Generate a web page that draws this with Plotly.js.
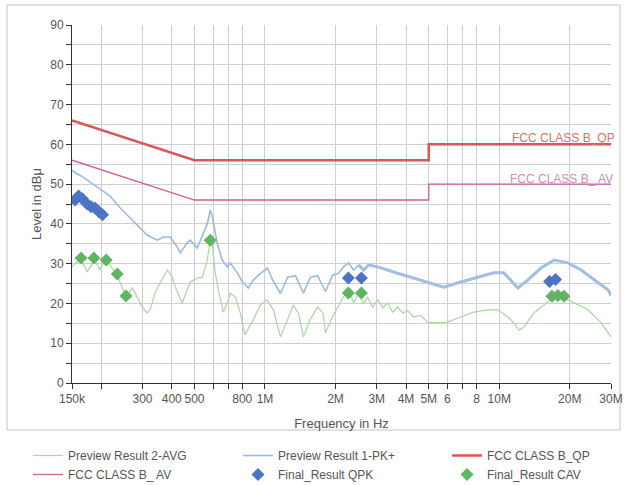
<!DOCTYPE html>
<html>
<head>
<meta charset="utf-8">
<script src="https://cdn.plot.ly/plotly-3.0.1.min.js"></script>
<style>html,body{margin:0;padding:0;background:#fff;}#chart{width:627px;height:485px;}</style>
</head>
<body>
<div id="chart"></div>
<script>
// Frequencies in MHz, levels in dBµV
var pkFreq = [0.150,0.155,0.165,0.179,0.198,0.218,0.241,0.266,0.293,0.314,0.347,0.368,0.394,0.422,0.435,0.466,0.480,0.514,0.530,0.545,0.567,0.584,0.596,0.626,0.657,0.690,0.711,0.762,0.800,0.849,0.892,0.937,1.024,1.076,1.164,1.250,1.349,1.459,1.563,1.675,1.813,1.942,2.060,2.164,2.274,2.388,2.509,2.636,2.769,3.027,3.540,4.188,4.951,5.794,6.850,8.097,9.482,10.46,11.21,12.01,13.26,15.07,17.13,19.65,22.34,25.41,29.17,30.0];
var pkLevel = [53.5,52.8,52.0,50.5,48.7,47.0,44.0,41.5,39.0,37.2,35.9,36.7,36.7,34.2,32.7,35.3,35.9,33.9,35.9,37.5,40.0,43.5,41.7,35.0,30.9,29.2,30.2,27.7,25.4,23.9,25.9,27.1,28.9,26.0,22.5,26.6,27.0,22.6,26.6,27.0,23.0,27.1,27.6,29.2,30.2,28.4,29.7,28.4,29.7,29.2,27.9,26.6,25.4,24.1,25.4,26.6,27.7,27.7,25.9,23.9,25.9,28.9,30.9,30.2,28.4,25.9,23.4,22.0];

var avgFreq = [0.150,0.158,0.164,0.174,0.181,0.187,0.197,0.204,0.210,0.222,0.234,0.245,0.257,0.271,0.279,0.299,0.314,0.323,0.339,0.356,0.383,0.402,0.414,0.443,0.466,0.480,0.514,0.540,0.567,0.584,0.596,0.612,0.632,0.664,0.698,0.711,0.750,0.785,0.820,0.890,0.956,1.020,1.086,1.164,1.250,1.320,1.390,1.460,1.560,1.680,1.770,1.810,1.940,2.040,2.160,2.270,2.390,2.510,2.636,2.740,2.880,3.030,3.180,3.340,3.510,3.680,3.870,4.060,4.310,4.620,4.950,5.460,6.030,6.850,7.770,8.940,9.870,10.89,11.55,12.13,12.75,14.06,16.14,17.13,18.90,20.86,23.93,27.20,30.0];
var avgLevel = [29.2,30.5,31.0,28.0,29.5,31.0,28.5,30.2,30.8,29.0,27.2,24.1,21.6,23.9,22.6,19.1,17.6,18.4,22.6,25.1,28.4,26.6,24.1,20.1,23.4,25.4,26.4,26.6,30.9,35.9,35.0,28.0,23.4,17.8,20.9,22.6,21.5,17.5,12.1,15.8,19.6,20.9,18.4,11.6,16.0,19.6,17.5,11.6,16.0,19.1,17.5,12.6,16.6,19.1,21.6,23.5,20.1,22.6,20.0,21.6,19.1,20.9,18.9,20.1,17.8,19.1,17.6,18.2,16.6,17.0,15.3,15.1,15.3,16.6,17.8,18.4,18.4,16.6,15.1,13.3,14.1,17.6,20.4,21.6,21.4,20.1,18.4,15.1,11.6];

var qpLimitFreq = [0.15,0.5,5,5,30];
var qpLimitLevel = [66,56,56,60,60];
var avLimitFreq = [0.15,0.5,5,5,30];
var avLimitLevel = [56,46,46,50,50];

var qpkFreq = [0.1545,0.160,0.166,0.174,0.181,0.188,0.196,0.2025,2.27,2.58,16.4,17.4];
var qpkLevel = [46.0,47.0,46.3,45.0,44.3,44.0,43.0,42.3,26.4,26.4,25.5,26.0];
var cavFreq = [0.164,0.186,0.210,0.234,0.255,0.584,2.27,2.58,16.8,17.8,18.9];
var cavLevel = [31.4,31.4,30.9,27.4,21.9,35.9,22.6,22.6,21.8,22.0,21.8];

var tickFreq = [0.15,0.2,0.3,0.4,0.5,0.6,0.7,0.8,1,2,3,4,5,6,7,8,10,20,30];
var tickText = ['150k','','300','400','500','','','800','1M','2M','3M','4M','5M','6','','8','10M','20M','30M'];

function hz(a){ return a.map(function(v){ return v*1e6; }); }

// the measured PK+ trace is drawn as a wider (noisy) band above ~2.5 MHz
var splitIdx = pkFreq.indexOf(2.509);

var FONT = 'Liberation Sans, Arial, sans-serif';
var traces = [
  {x: hz(avgFreq), y: avgLevel, type:'scatter', mode:'lines', name:'Preview Result 2-AVG',
   line:{color:'#a9d6a2', width:1.2}, legend:'legend'},
  {x: hz(pkFreq.slice(0, splitIdx+1)), y: pkLevel.slice(0, splitIdx+1), type:'scatter', mode:'lines', name:'Preview Result 1-PK+',
   line:{color:'#9db9e2', width:1.6}, legend:'legend2', legendgroup:'pk'},
  {x: hz(pkFreq.slice(splitIdx)), y: pkLevel.slice(splitIdx), type:'scatter', mode:'lines', name:'Preview Result 1-PK+',
   line:{color:'#a3bde3', width:3}, legend:'legend2', legendgroup:'pk', showlegend:false},
  {x: hz(qpLimitFreq), y: qpLimitLevel, type:'scatter', mode:'lines', name:'FCC CLASS B_QP',
   line:{color:'#d95656', width:2.5}, legend:'legend3'},
  {x: hz(avLimitFreq), y: avLimitLevel, type:'scatter', mode:'lines', name:'FCC CLASS B_ AV',
   line:{color:'#c9609e', width:1.3}, legend:'legend'},
  {x: hz(qpkFreq), y: qpkLevel, type:'scatter', mode:'markers', name:'Final_Result QPK',
   marker:{symbol:'diamond', color:'#4b74c6', size:10}, legend:'legend2'},
  {x: hz(cavFreq), y: cavLevel, type:'scatter', mode:'markers', name:'Final_Result CAV',
   marker:{symbol:'diamond', color:'#5fb562', size:10}, legend:'legend3'}
];

var xr = [Math.log10(150000), Math.log10(30000000)];
function px2paperX(p){ return (p-72)/539; }
function px2paperY(p){ return (383-p)/358; }
var legendBase = {orientation:'v', xref:'paper', yref:'paper', xanchor:'left', yanchor:'top',
  bgcolor:'rgba(0,0,0,0)', borderwidth:0, font:{family:FONT, size:12, color:'#555'}, tracegroupgap:0, itemwidth:30};
function leg(px){ var o = Object.assign({}, legendBase); o.x = px2paperX(px); o.y = px2paperY(441); return o; }

var layout = {
  width:627, height:485,
  margin:{l:72, r:16, t:25, b:102, autoexpand:false},
  paper_bgcolor:'#fff', plot_bgcolor:'#fff',
  font:{family:FONT, size:12, color:'#555'},
  showlegend:true,
  legend: leg(28), legend2: leg(238), legend3: leg(447),
  xaxis:{type:'log', range:xr, tickmode:'array', tickvals:hz(tickFreq), ticktext:tickText,
    ticks:'outside', ticklen:5, tickcolor:'#333', tickangle:0,
    showline:true, linecolor:'#333', linewidth:1, showgrid:true, gridcolor:'#cfcfcf', gridwidth:1,
    zeroline:false, tickfont:{size:12, color:'#555'},
    title:{text:'Frequency in Hz', font:{size:13, color:'#555'}, standoff:13}},
  yaxis:{range:[0,90], tick0:0, dtick:10, ticks:'outside', ticklen:5, tickcolor:'#333',
    minor:{dtick:5, ticks:'outside', ticklen:5, tickcolor:'#333', showgrid:true, gridcolor:'#cfcfcf', gridwidth:1},
    showline:true, linecolor:'#333', linewidth:1, showgrid:true, gridcolor:'#cfcfcf', gridwidth:1,
    zeroline:false, tickfont:{size:12, color:'#555'},
    title:{text:'Level in dBμ', font:{size:13, color:'#555'}, standoff:5}},
  xaxis2:{overlaying:'x', anchor:'y', side:'bottom', type:'log', range:xr, tickmode:'array',
    tickvals:hz(tickFreq), showticklabels:false, ticks:'inside', ticklen:5, tickcolor:'#333',
    showgrid:false, showline:false, zeroline:false},
  yaxis2:{overlaying:'y', anchor:'x', side:'left', range:[0,90], tick0:0, dtick:5,
    showticklabels:false, ticks:'inside', ticklen:5, tickcolor:'#333',
    showgrid:false, showline:false, zeroline:false},
  annotations:[
    {xref:'paper', yref:'y', x:px2paperX(510), y:61.6, xanchor:'left', yanchor:'middle', showarrow:false,
     text:'FCC CLASS B_QP', font:{family:FONT, size:12, color:'#dc7070'}},
    {xref:'paper', yref:'y', x:px2paperX(508), y:51.3, xanchor:'left', yanchor:'middle', showarrow:false,
     text:'FCC CLASS B_ AV', font:{family:FONT, size:12, color:'#d38ab9'}}
  ],
  shapes:[
    {type:'rect', xref:'paper', yref:'paper', x0:px2paperX(7), x1:px2paperX(620), y0:px2paperY(430), y1:px2paperY(5),
     line:{color:'#c4c4c4', width:1}, fillcolor:'rgba(0,0,0,0)', layer:'below'}
  ]
};

Plotly.newPlot('chart', traces, layout, {displayModeBar:false, staticPlot:true});
</script>
</body>
</html>
